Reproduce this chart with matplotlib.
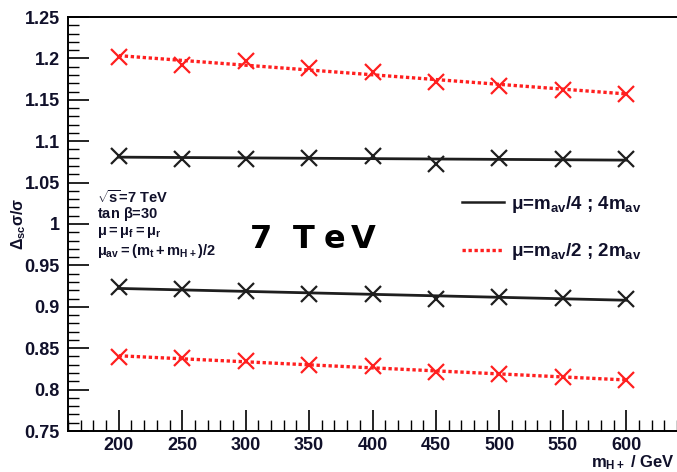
import numpy as np
import matplotlib.pyplot as plt
from matplotlib.lines import Line2D
from matplotlib.ticker import MultipleLocator

# ---------------------- DATA ----------------------

mass = [200, 250, 300, 350, 400, 450, 500, 550, 600]

# mu = m_av/4 ; 4 m_av  (black)
black_up = [1.0825, 1.079, 1.079, 1.080, 1.082, 1.072, 1.080, 1.078, 1.078]
black_down = [0.9235, 0.921, 0.919, 0.915, 0.915, 0.910, 0.912, 0.911, 0.909]

# mu = m_av/2 ; 2 m_av  (red)
red_up = [1.202, 1.192, 1.197, 1.189, 1.184, 1.172, 1.167, 1.162, 1.157]
red_down = [0.8393, 0.838, 0.834, 0.830, 0.8285, 0.821, 0.819, 0.815, 0.8115]

y_ticks = [0.75, 0.8, 0.85, 0.9, 0.95, 1.0, 1.05, 1.1, 1.15, 1.2, 1.25]
y_labels = ['0.75', '0.8', '0.85', '0.9', '0.95', '1', '1.05', '1.1', '1.15', '1.2', '1.25']

plt.rcParams['font.family'] = ['Liberation Sans', 'DejaVu Sans']
plt.rcParams['mathtext.fontset'] = 'custom'
plt.rcParams['mathtext.rm'] = 'Liberation Sans:bold'
plt.rcParams['mathtext.it'] = 'Liberation Sans:bold'
plt.rcParams['mathtext.bf'] = 'Liberation Sans:bold'

BLACK = '#1e1e1e'
RED = '#ff1f1f'
INK = '#10102a'
W, H = 677, 472

# ---------------------- PLOT ----------------------

fig = plt.figure(figsize=(W / 100, H / 100), dpi=100)
ax = fig.add_axes([68 / W, 1 - 431 / H, 1 - 68 / W, (431 - 17) / H])


def px(x, y):
    return x / W, 1 - y / H


def draw_band(vals, color, ls, lw):
    x = np.array(mass)
    fit = np.polyfit(x, vals, 1)
    ax.plot(x, np.polyval(fit, x), color=color, ls=ls, lw=lw, zorder=2)
    ax.plot(x, vals, ls='none', marker='x', ms=12, mew=1.6, color=color, zorder=3)


DOTS = (0, (1, 0.8))
draw_band(black_up, BLACK, '-', 2.0)
draw_band(black_down, BLACK, '-', 2.0)
draw_band(red_up, RED, DOTS, 2.4)
draw_band(red_down, RED, DOTS, 2.4)

ax.set_xlim(160, 640)
ax.set_ylim(0.75, 1.25)
ax.set_xticks(mass)
ax.xaxis.set_minor_locator(MultipleLocator(10))
ax.set_yticks(y_ticks)
ax.set_yticklabels(y_labels)
ax.yaxis.set_minor_locator(MultipleLocator(0.01))

ax.tick_params(which='major', direction='in', length=15, width=1.2, labelsize=13, pad=6)
ax.tick_params(axis='x', which='major', pad=4)
ax.tick_params(which='minor', direction='in', length=8, width=1.0)
for lab in ax.get_xticklabels() + ax.get_yticklabels():
    lab.set_fontweight('bold')
    lab.set_color(INK)

ax.spines['right'].set_visible(False)
for s in ['left', 'bottom', 'top']:
    ax.spines[s].set_linewidth(1.4)

# axis labels
fig.text(*px(19, 224), r'$\Delta_{sc}\sigma/\sigma$', rotation=90, ha='center', va='center',
         fontsize=11.5, color=INK)
fig.text(*px(675, 467), r'$m_{H+}$ / GeV', ha='right', va='baseline',
         fontsize=12, fontweight='bold', color=INK)

# info block
info = [r'$\sqrt{s}$=7 TeV', r'tan $\beta$=30',
        r'$\mu=\mu_f=\mu_r$', r'$\mu_{av}=(m_t+m_{H+})/2$']
info_y = [197, 214, 233, 251]
for t, yy in zip(info, info_y):
    fig.text(*px(97, yy), t, fontsize=10.5, fontweight='bold', color=INK,
             va='center', ha='left')

# big energy label, letter spaced
for ch, xx in zip(['7', 'T', 'e', 'V'], [261, 304, 334, 363]):
    fig.text(*px(xx, 240), ch, fontsize=23, fontweight='bold', ha='center', va='center',
             family=['DejaVu Sans'], color='black')

# legend
handles = [Line2D([], [], color=BLACK, lw=1.8),
           Line2D([], [], color=RED, lw=2.4, ls=DOTS)]
labels = [r'$\mu$=m$_{av}$/4 ; 4m$_{av}$', r'$\mu$=m$_{av}$/2 ; 2m$_{av}$']
leg = ax.legend(handles, labels, loc='center left', bbox_to_anchor=(0.62, 0.49),
                frameon=False, handlelength=2.2, handletextpad=0.4,
                labelspacing=1.4, prop={'weight': 'bold', 'size': 13.5})
for t in leg.get_texts():
    t.set_color(INK)

fig.savefig('out.png', dpi=100)
